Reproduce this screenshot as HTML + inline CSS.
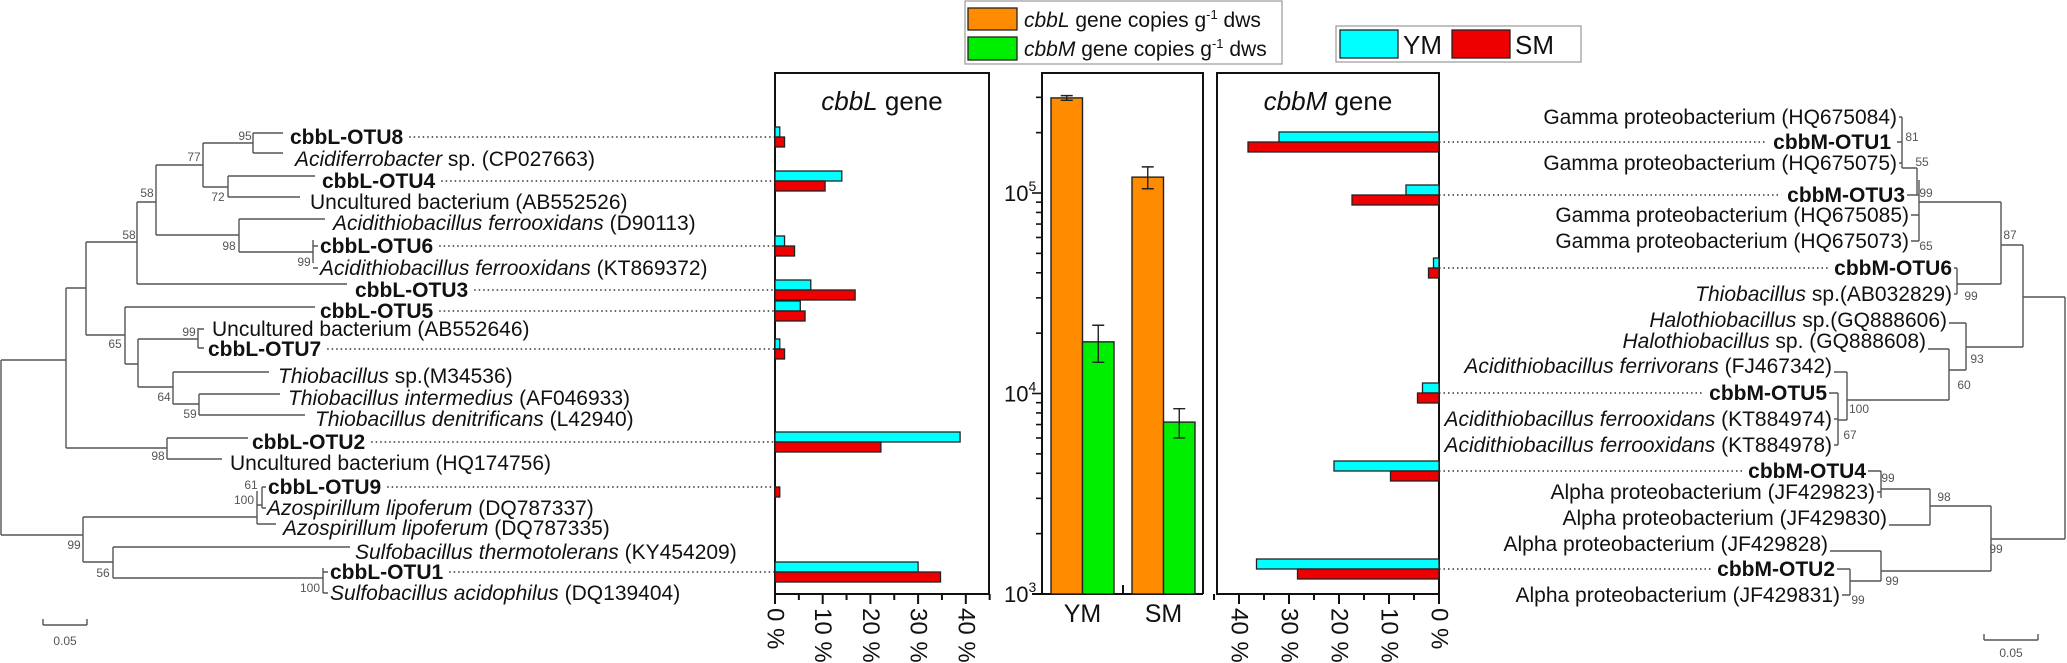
<!DOCTYPE html>
<html><head><meta charset="utf-8"><style>
html,body{margin:0;padding:0;background:#fff;}
svg{display:block;font-family:"Liberation Sans",Arial,sans-serif;}
.lbl{font-size:21px;fill:#111;}
.b{font-weight:bold;}
.bs{font-size:12px;fill:#555;}
.tr{stroke:#555;stroke-width:1.4;fill:none;}
.dot{stroke:#333;stroke-width:1.4;stroke-dasharray:1.5 3;fill:none;}
</style></head><body>
<svg id="fig" width="2067" height="663" viewBox="0 0 2067 663">
<g id="ltree">
<path class="tr" d="M1 360V535 M1 360H66 M66 288V448 M66 288H86 M86 242V335 M86 242H137 M137 202V284 M137 202H156 M156 165V235 M156 165H203 M203 143V187 M203 143H253 M253 133V153 M253 133H283 M253 153H283 M203 187H228 M228 176V197 M228 176H315 M228 197H300 M156 235H239 M239 219V252 M239 219H325 M239 252H313 M313 240V263 M313 246H318 M313 268H318 M137 284H347 M86 335H125 M125 307V364 M125 307H315 M125 364H138 M138 339V387 M138 339H198 M198 328V348 M198 329H204 M198 348H204 M138 387H173 M173 372V404 M173 372H269 M173 404H199 M199 394V415 M199 394H280 M199 415H305 M66 448H167 M167 438V459 M167 438H248 M167 459H222 M1 535H83 M83 517V562 M83 517H257 M257 491V524 M257 505H262 M262 487V508 M262 487H266 M262 508H266 M257 524H276 M83 562H113 M113 547V578 M113 547H350 M113 578H323 M323 568V593 M323 572H328 M323 593H328"/>
<path class="tr" d="M43 625H87 M43 619V625 M87 619V625"/>
<text class="bs" x="65" y="645" text-anchor="middle">0.05</text>
</g>
<g id="rtree">
<path class="tr" d="M1902 117V168 M1899 117H1902 M1897 142H1902 M1899 163H1902 M1902 168H1917 M1917 168V195 M1907 195H1919 M1919 180V241 M1911 215H1919 M1911 241H1919 M1919 202H2001 M2001 202V284 M1957 284H2001 M1957 268V294 M1954 268H1957 M1954 294H1957 M2001 245H2023 M2023 245V347 M1966 347H2023 M1966 323V370 M1949 323H1966 M1949 370H1966 M1949 349V400 M1928 349H1949 M1847 400H1949 M1847 372V420 M1834 372H1847 M1838 420H1847 M1838 393V445 M1829 393H1838 M1834 419H1838 M1834 445H1838 M2023 297H2065 M2065 297V539 M1991 539H2065 M1991 506V571 M1930 506H1991 M1930 489V525 M1881 489H1930 M1881 471V498 M1868 471H1881 M1877 492H1881 M1889 525H1930 M1881 571H1991 M1881 551V581 M1830 551H1881 M1850 581H1881 M1850 569V595 M1837 569H1850 M1842 595H1850"/>
<path class="tr" d="M1984 640H2038 M1984 634V640 M2038 634V640"/>
<text class="bs" x="2011" y="657" text-anchor="middle">0.05</text>
</g>
<g id="labels"></g>
<g id="boot"></g>
<g id="charts"></g>
<g>
<rect x="965" y="1" width="317" height="63" fill="#fff" stroke="#999" stroke-width="1.2"/>
<rect x="968" y="8" width="49" height="22" fill="#ff8c00" stroke="#222" stroke-width="1.3"/>
<rect x="968" y="37" width="49" height="23" fill="#00ee00" stroke="#222" stroke-width="1.3"/>
<text class="lbl" x="1024" y="27"><tspan font-style="italic">cbbL</tspan> gene copies g<tspan font-size="13" dy="-8">-1</tspan><tspan dy="8"> dws</tspan></text>
<text class="lbl" x="1024" y="56"><tspan font-style="italic">cbbM</tspan> gene copies g<tspan font-size="13" dy="-8">-1</tspan><tspan dy="8"> dws</tspan></text>
</g>
<g>
<rect x="1336" y="26" width="245" height="36" fill="#fff" stroke="#999" stroke-width="1.2"/>
<rect x="1340" y="30" width="58" height="28" fill="#00ffff" stroke="#222" stroke-width="1.3"/>
<text x="1403" y="54" font-size="26" fill="#111">YM</text>
<rect x="1452" y="30" width="58" height="28" fill="#ee0000" stroke="#222" stroke-width="1.3"/>
<text x="1515" y="54" font-size="26" fill="#111">SM</text>
</g>
</svg>
<script>
const cbbLOtus = ['cbbL-OTU8','cbbL-OTU4','cbbL-OTU6','cbbL-OTU3','cbbL-OTU5','cbbL-OTU7','cbbL-OTU2','cbbL-OTU9','cbbL-OTU1'];
const cbbL_YM = [1, 14, 2, 7.5, 5.3, 1, 38.8, 0, 30];
const cbbL_SM = [2, 10.5, 4.1, 16.8, 6.3, 2, 22.2, 1, 34.7];
const cbbMOtus = ['cbbM-OTU1','cbbM-OTU3','cbbM-OTU6','cbbM-OTU5','cbbM-OTU4','cbbM-OTU2'];
const cbbM_YM = [32, 6.6, 1.1, 3.3, 21, 36.5];
const cbbM_SM = [38.2, 17.4, 2.1, 4.3, 9.7, 28.3];
const samples = ['YM','SM'];
const cbbLCopies = [2.98e5, 1.2e5];
const cbbLErr = [0.08e5, 0.15e5];
const cbbMCopies = [1.81e4, 7.2e3];
const cbbMErr = [3.8e3, 1.2e3];
const pctTicks = [0, 10, 20, 30, 40];
const pctTickLabels = ['0 %','10 %','20 %','30 %','40 %'];
const logTicks = [3, 4, 5];

const NS = 'http://www.w3.org/2000/svg';
function mk(tag, attrs, parent){const e=document.createElementNS(NS,tag);for(const k in attrs)e.setAttribute(k,attrs[k]);parent.appendChild(e);return e;}
const labelsG = document.getElementById('labels');
const bootG = document.getElementById('boot');
const chartsG = document.getElementById('charts');

const leftLeaves = [
 [290,137,'','cbbL-OTU8',1],[295,159,'Acidiferrobacter',' sp. (CP027663)',0],
 [322,181,'','cbbL-OTU4',1],[310,202,'','Uncultured bacterium (AB552526)',0],
 [333,223,'Acidithiobacillus ferrooxidans',' (D90113)',0],[320,246,'','cbbL-OTU6',1],
 [320,268,'Acidithiobacillus ferrooxidans',' (KT869372)',0],[355,290,'','cbbL-OTU3',1],
 [320,311,'','cbbL-OTU5',1],[212,329,'','Uncultured bacterium (AB552646)',0],
 [208,349,'','cbbL-OTU7',1],[278,376,'Thiobacillus',' sp.(M34536)',0],
 [288,398,'Thiobacillus intermedius',' (AF046933)',0],[315,419,'Thiobacillus denitrificans',' (L42940)',0],
 [252,442,'','cbbL-OTU2',1],[230,463,'','Uncultured bacterium (HQ174756)',0],
 [268,487,'','cbbL-OTU9',1],[267,508,'Azospirillum lipoferum',' (DQ787337)',0],
 [283,528,'Azospirillum lipoferum',' (DQ787335)',0],[355,552,'Sulfobacillus thermotolerans',' (KY454209)',0],
 [330,572,'','cbbL-OTU1',1],[330,593,'Sulfobacillus acidophilus',' (DQ139404)',0]];
const rightLeaves = [
 [1897,117,'','Gamma proteobacterium (HQ675084)',0],[1891,142,'','cbbM-OTU1',1],
 [1897,163,'','Gamma proteobacterium (HQ675075)',0],[1905,195,'','cbbM-OTU3',1],
 [1909,215,'','Gamma proteobacterium (HQ675085)',0],[1909,241,'','Gamma proteobacterium (HQ675073)',0],
 [1952,268,'','cbbM-OTU6',1],[1952,294,'Thiobacillus',' sp.(AB032829)',0],
 [1947,320,'Halothiobacillus',' sp.(GQ888606)',0],[1926,341,'Halothiobacillus',' sp. (GQ888608)',0],
 [1832,366,'Acidithiobacillus ferrivorans',' (FJ467342)',0],[1827,393,'','cbbM-OTU5',1],
 [1832,419,'Acidithiobacillus ferrooxidans',' (KT884974)',0],[1832,445,'Acidithiobacillus ferrooxidans',' (KT884978)',0],
 [1866,471,'','cbbM-OTU4',1],[1875,492,'','Alpha proteobacterium (JF429823)',0],
 [1887,518,'','Alpha proteobacterium (JF429830)',0],[1828,544,'','Alpha proteobacterium (JF429828)',0],
 [1835,569,'','cbbM-OTU2',1],[1840,595,'','Alpha proteobacterium (JF429831)',0]];
const rowY = {};
function leaf(d, anchor){
  const t = mk('text',{x:d[0],y:d[1]+7,'text-anchor':anchor,class:'lbl'+(d[4]?' b':'')},labelsG);
  
  
  if(d[2]){const s=mk('tspan',{'font-style':'italic'},t);s.textContent=d[2];}
  const s2=mk('tspan',{},t);s2.textContent=d[3];
  if(d[4]) rowY[d[3]] = {y:d[1], t:t, x:d[0]};
  return t;
}
leftLeaves.forEach(d=>leaf(d,'start'));
rightLeaves.forEach(d=>leaf(d,'end'));

const boots = [[245,136,'95'],[194,157,'77'],[218,197,'72'],[147,193,'58'],[129,235,'58'],[229,246,'98'],[304,262,'99'],[115,344,'65'],[189,332,'99'],[164,397,'64'],[190,414,'59'],[158,456,'98'],[251,485,'61'],[244,500,'100'],[74,545,'99'],[103,573,'56'],[310,588,'100'],
 [1912,137,'81'],[1922,162,'55'],[1926,193,'99'],[1926,246,'65'],[2010,235,'87'],[1971,296,'99'],[1977,359,'93'],[1964,385,'60'],[1859,409,'100'],[1850,435,'67'],[1888,478,'99'],[1944,497,'98'],[1996,549,'99'],[1892,581,'99'],[1858,600,'99']];
boots.forEach(b=>{const t=mk('text',{x:b[0],y:b[1]+4,'text-anchor':'middle',class:'bs'},bootG);t.textContent=b[2];
  
  });

const L = {left:775, right:989, top:73, bottom:594, pxPer:4.77};
const xL = v => L.left + v*L.pxPer;
const M = {left:1217, right:1439, top:73, bottom:594, pxPer:5.0};
const xM = v => M.right - v*M.pxPer;

function panel(P, name, title){
  const r = mk('rect',{x:P.left,y:P.top,width:P.right-P.left,height:P.bottom-P.top,fill:'none',stroke:'#111','stroke-width':2},chartsG);
  
  
  const t = mk('text',{x:(P.left+P.right)/2,y:110,'text-anchor':'middle','font-size':26,fill:'#111'},chartsG);
  
  
  const s=mk('tspan',{'font-style':'italic'},t);s.textContent=title;
  const s2=mk('tspan',{},t);s2.textContent=' gene';
}
panel(L,'cbbl-panel','cbbL');
panel(M,'cbbm-panel','cbbM');

function pctAxis(xf, name){
  for(let v=0; v<=45; v+=5){
    const x=xf(v); const major = v%10===0;
    mk('line',{x1:x,x2:x,y1:594,y2:594+(major?10:6),stroke:'#111','stroke-width':2},chartsG);
  }
  pctTicks.forEach((v,i)=>{
    const t=mk('text',{x:0,y:0,'font-size':24,fill:'#111','dominant-baseline':'central',transform:`translate(${xf(v)},608) rotate(90)`},chartsG);
    t.textContent=pctTickLabels[i];
    
    
  });
}
pctAxis(xL,'cbbl-x');
pctAxis(v=>xM(v),'cbbm-x');

function barsH(otus, ym, sm, xf, zeroX, side){
  otus.forEach((o,i)=>{
    const r=rowY[o]; if(!r) return;
    const y=r.y;
    let x1,x2;
    if(side==='L'){x1 = r.x + r.t.getComputedTextLength() + 6; x2 = zeroX;}
    else {x1 = zeroX; x2 = r.x - r.t.getComputedTextLength() - 6;}
    const dl=mk('line',{x1:x1,x2:x2,y1:y,y2:y,class:'dot'},chartsG);
    
    
    [[ym[i],'#00ffff',y-10,'ym'],[sm[i],'#ee0000',y,'sm']].forEach(b=>{
      if(b[0]<=0) return;
      const xa=xf(b[0]);
      const rc=mk('rect',{x:Math.min(xa,zeroX),y:b[2],width:Math.abs(xa-zeroX),height:10,fill:b[1],stroke:'#222','stroke-width':1.3},chartsG);
      
      
    });
  });
}
barsH(cbbLOtus, cbbL_YM, cbbL_SM, xL, L.left, 'L');
barsH(cbbMOtus, cbbM_YM, cbbM_SM, xM, M.right, 'R');

const C = {left:1042, right:1203, top:73, bottom:594, decade:200.5};
const yLog = v => C.bottom - (Math.log10(v)-3)*C.decade;
mk('path',{d:`M${C.left} ${C.bottom}V${C.top}H${C.right}V${C.bottom}`,fill:'none',stroke:'#111','stroke-width':2},chartsG);
mk('line',{x1:1032,x2:C.right,y1:C.bottom,y2:C.bottom,stroke:'#111','stroke-width':2},chartsG);
for(let d=3; d<6; d++){
  for(let m=1; m<10; m++){
    const v=m*Math.pow(10,d); const y=yLog(v); if(y<C.top) break;
    mk('line',{x1:C.left-(m===1?10:6),x2:C.left,y1:y,y2:y,stroke:'#111','stroke-width':1.6},chartsG);
  }
}
logTicks.forEach(e=>{
  const t=mk('text',{x:1004,y:yLog(Math.pow(10,e))+8,'font-size':22,fill:'#111'},chartsG);
  
  
  t.appendChild(document.createTextNode('10'));
  const s=mk('tspan',{'font-size':14,dy:-10},t); s.textContent=String(e);
});
const groupX = [1051, 1132]; const bw = 31.5;
samples.forEach((s,i)=>{
  const gx=groupX[i];
  [[cbbLCopies[i],cbbLErr[i],'#ff8c00',gx,'cbbl'],[cbbMCopies[i],cbbMErr[i],'#00ee00',gx+bw,'cbbm']].forEach(b=>{
    const yt=yLog(b[0]);
    const r=mk('rect',{x:b[3],y:yt,width:bw,height:C.bottom-yt,fill:b[2],stroke:'#222','stroke-width':1.4},chartsG);
    
    
    const cx=b[3]+bw/2, y1=yLog(b[0]+b[1]), y2=yLog(b[0]-b[1]);
    const eb=mk('path',{d:`M${cx} ${y1}V${y2}M${cx-6} ${y1}H${cx+6}M${cx-6} ${y2}H${cx+6}`,stroke:'#222','stroke-width':1.4,fill:'none'},chartsG);
    
    
  });
  const t=mk('text',{x:gx+bw,y:622,'text-anchor':'middle','font-size':25,fill:'#111'},chartsG);
  t.textContent=s;
  
  
});
mk('line',{x1:1123,x2:1123,y1:585,y2:594,stroke:'#111','stroke-width':2},chartsG);
</script>
</body></html>
